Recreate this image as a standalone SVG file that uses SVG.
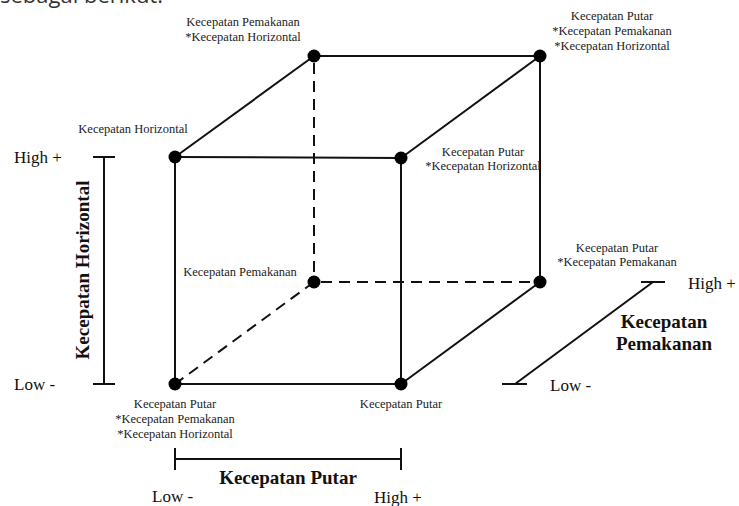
<svg xmlns="http://www.w3.org/2000/svg" width="739" height="506" viewBox="0 0 739 506">
<style>
.edge{stroke:#111;stroke-width:2;fill:none;stroke-linecap:butt}
.dash{stroke-dasharray:11 7}
.dot{fill:#000}
.lbl{font-family:"Liberation Serif","Times New Roman",serif;font-size:12.5px;fill:#222;text-anchor:middle}
.axt{font-family:"Liberation Serif","Times New Roman",serif;font-size:17px;fill:#111}
.axb{font-family:"Liberation Serif","Times New Roman",serif;font-size:19px;font-weight:bold;fill:#111;text-anchor:middle}
.frag{font-family:"Open Sans","Liberation Sans",sans-serif;font-size:22px;fill:#333}
</style>
<rect width="739" height="506" fill="#fff"/>
<text class="frag" x="0" y="3">sebagai berikut.</text>

<g id="connectors">
  <line class="edge" x1="175" y1="157" x2="401" y2="158"/>
  <line class="edge" x1="175" y1="157" x2="175" y2="384"/>
  <line class="edge" x1="401" y1="158" x2="401" y2="384"/>
  <line class="edge" x1="175" y1="384" x2="401" y2="384"/>
  <line class="edge" x1="175" y1="157" x2="314" y2="56"/>
  <line class="edge" x1="314" y1="56" x2="540" y2="56"/>
  <line class="edge" x1="401" y1="158" x2="540" y2="56"/>
  <line class="edge" x1="540" y1="56" x2="540" y2="282"/>
  <line class="edge" x1="401" y1="384" x2="540" y2="282"/>
  <line class="edge dash" x1="314" y1="63" x2="314" y2="282"/>
  <line class="edge dash" x1="321" y1="282" x2="540" y2="282"/>
  <line class="edge dash" x1="314" y1="282" x2="175" y2="384"/>
</g>

<g id="axis-horizontal">
  <line class="edge" x1="104" y1="157" x2="104" y2="384"/>
  <line class="edge" x1="93" y1="157" x2="115" y2="157"/>
  <line class="edge" x1="93" y1="384" x2="115" y2="384"/>
  <text class="axt" x="14" y="163">High +</text>
  <text class="axt" x="14" y="390">Low -</text>
  <text class="axb" transform="translate(89,270) rotate(-90)" x="0" y="0">Kecepatan Horizontal</text>
</g>

<g id="axis-putar">
  <line class="edge" x1="175" y1="459" x2="401" y2="459"/>
  <line class="edge" x1="175" y1="448" x2="175" y2="470"/>
  <line class="edge" x1="401" y1="448" x2="401" y2="470"/>
  <text class="axb" x="288" y="484">Kecepatan Putar</text>
  <text class="axt" x="152" y="502">Low -</text>
  <text class="axt" x="374" y="503">High +</text>
</g>

<g id="axis-pemakanan">
  <line class="edge" x1="641" y1="282" x2="665" y2="282"/>
  <line class="edge" x1="653" y1="282" x2="515" y2="384"/>
  <line class="edge" x1="502" y1="384" x2="527" y2="384"/>
  <text class="axt" x="688" y="289">High +</text>
  <text class="axt" x="550" y="391">Low -</text>
  <text class="axb" x="664" y="328">Kecepatan</text>
  <text class="axb" x="664" y="350">Pemakanan</text>
</g>

<g id="node-A">
  <circle class="dot" cx="175" cy="157" r="6.5"/>
  <text class="lbl" x="133" y="133">Kecepatan Horizontal</text>
</g>
<g id="node-B">
  <circle class="dot" cx="401" cy="158" r="6.5"/>
  <text class="lbl" x="483" y="156">Kecepatan Putar</text>
  <text class="lbl" x="483" y="170">*Kecepatan Horizontal</text>
</g>
<g id="node-C">
  <circle class="dot" cx="175" cy="384" r="6.5"/>
  <text class="lbl" x="175" y="408">Kecepatan Putar</text>
  <text class="lbl" x="175" y="423">*Kecepatan Pemakanan</text>
  <text class="lbl" x="175" y="438">*Kecepatan Horizontal</text>
</g>
<g id="node-D">
  <circle class="dot" cx="401" cy="384" r="6.5"/>
  <text class="lbl" x="401" y="408">Kecepatan Putar</text>
</g>
<g id="node-E">
  <circle class="dot" cx="314" cy="56" r="6.5"/>
  <text class="lbl" x="243" y="26">Kecepatan Pemakanan</text>
  <text class="lbl" x="243" y="41">*Kecepatan Horizontal</text>
</g>
<g id="node-F">
  <circle class="dot" cx="540" cy="56" r="6.5"/>
  <text class="lbl" x="612" y="20">Kecepatan Putar</text>
  <text class="lbl" x="612" y="35">*Kecepatan Pemakanan</text>
  <text class="lbl" x="612" y="50">*Kecepatan Horizontal</text>
</g>
<g id="node-G">
  <circle class="dot" cx="314" cy="282" r="6.5"/>
  <text class="lbl" x="240" y="276">Kecepatan Pemakanan</text>
</g>
<g id="node-H">
  <circle class="dot" cx="540" cy="282" r="6.5"/>
  <text class="lbl" x="617" y="252">Kecepatan Putar</text>
  <text class="lbl" x="617" y="266">*Kecepatan Pemakanan</text>
</g>
</svg>
